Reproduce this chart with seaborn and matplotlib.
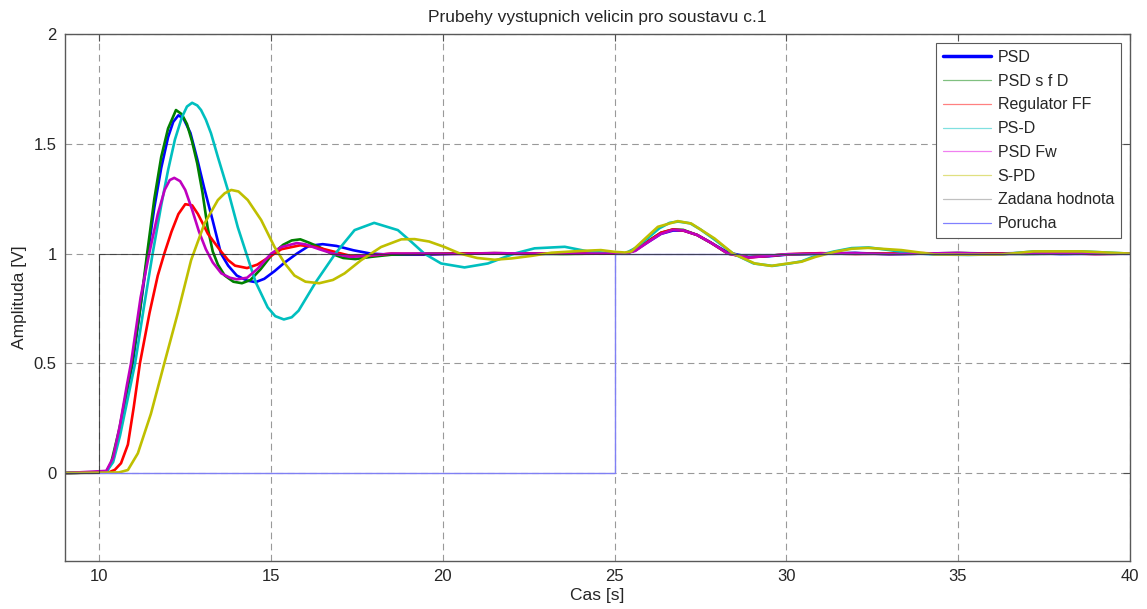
import matplotlib
matplotlib.use('Agg')
import matplotlib.pyplot as plt
from matplotlib.lines import Line2D
import seaborn as sns

# --- data (time [s], amplitude [V]) ---
t_psd = [9, 10.2, 10.4, 10.6, 10.8, 10.97, 11.2, 11.41, 11.6, 11.8, 12.0, 12.15, 12.3, 12.45, 12.65, 12.85,
         13.05, 13.3, 13.54, 13.75, 14.0, 14.3, 14.55, 14.8, 15.1, 15.4, 15.75, 16.1, 16.5, 16.9, 17.4,
         17.9, 18.5, 19.5, 20.5, 21.5, 22.5, 23.5, 24.5, 25.3, 25.6, 26.0, 26.35, 26.7, 27.0, 27.4,
         27.8, 28.3, 28.9, 29.5, 30.0, 31, 32, 33, 34, 35, 36, 37, 38, 39, 40]
y_psd = [0, 0.005, 0.06, 0.2, 0.37, 0.5, 0.76, 1.0, 1.21, 1.39, 1.53, 1.6, 1.63, 1.615, 1.55, 1.43,
         1.3, 1.15, 1.0, 0.945, 0.9, 0.877, 0.87, 0.885, 0.92, 0.96, 1.0, 1.035, 1.043, 1.035, 1.015,
         1.0, 0.995, 0.995, 1.0, 1.0, 0.998, 1.0, 1.0, 1.0, 1.015, 1.055, 1.09, 1.105, 1.105, 1.085,
         1.05, 1.005, 0.985, 0.988, 0.995, 1.0, 1.003, 0.998, 1.0, 1.0, 1.0, 1.003, 0.998, 1.0, 1.0]

t_sfd = [9, 10.2, 10.34, 10.58, 10.8, 10.95, 11.17, 11.39, 11.6, 11.8, 12.0, 12.23, 12.4, 12.55, 12.7,
         12.85, 13.0, 13.15, 13.3, 13.45, 13.65, 13.9, 14.15, 14.4, 14.7, 15.05, 15.35, 15.6, 15.85,
         16.1, 16.4, 16.75, 17.1, 17.45, 17.9, 18.5, 19.5, 20.5, 21.5, 22.5, 23.5, 24.5, 25.3, 25.6,
         26.0, 26.35, 26.7, 27.0, 27.4, 27.8, 28.3, 28.9, 29.5, 30.0, 31, 32, 33, 34, 35, 36, 37, 38, 39, 40]
y_sfd = [0, 0.005, 0.045, 0.2, 0.38, 0.5, 0.73, 1.0, 1.25, 1.44, 1.57, 1.654, 1.635, 1.59, 1.51,
         1.41, 1.28, 1.12, 1.01, 0.95, 0.9, 0.872, 0.865, 0.88, 0.93, 1.0, 1.04, 1.06, 1.065,
         1.05, 1.03, 1.0, 0.98, 0.975, 0.985, 0.995, 1.0, 1.0, 1.002, 1.0, 0.998, 1.0, 1.0, 1.015,
         1.06, 1.095, 1.11, 1.108, 1.085, 1.05, 1.0, 0.984, 0.99, 0.996, 1.0, 1.002, 0.998, 1.0, 1.003,
         1.0, 0.998, 1.0, 1.0, 1.0]

t_ff = [9, 10.3, 10.45, 10.63, 10.83, 11.0, 11.18, 11.46, 11.7, 11.89, 12.1, 12.3, 12.5, 12.7, 12.87,
        13.0, 13.16, 13.35, 13.54, 13.75, 13.95, 14.3, 14.6, 14.9, 15.3, 15.85, 16.3, 16.8, 17.3, 17.8,
        18.5, 19.5, 20.5, 21.5, 22.5, 23.5, 24.5, 25.3, 25.6, 26.0, 26.35, 26.7, 27.0, 27.4, 27.8,
        28.3, 28.9, 29.5, 30.0, 31, 32, 33, 34, 35, 36, 37, 38, 39, 40]
y_ff = [0, 0.005, 0.015, 0.045, 0.13, 0.3, 0.5, 0.73, 0.9, 1.0, 1.1, 1.18, 1.225, 1.22, 1.18,
        1.14, 1.09, 1.05, 1.01, 0.97, 0.945, 0.934, 0.95, 0.98, 1.02, 1.038, 1.03, 1.01, 0.99, 0.99,
        1.0, 0.998, 1.0, 1.002, 1.0, 1.0, 1.0, 1.0, 1.015, 1.058, 1.095, 1.11, 1.105, 1.085, 1.05,
        1.0, 0.982, 0.99, 0.997, 1.002, 0.998, 1.0, 1.002, 0.997, 1.0, 1.0, 1.002, 0.998, 1.0]

t_psd2 = [9, 10.2, 10.4, 10.6, 10.8, 11.04, 11.3, 11.55, 11.8, 12.0, 12.2, 12.4, 12.55, 12.7, 12.85,
          12.96, 13.1, 13.25, 13.45, 13.74, 14.03, 14.3, 14.55, 14.9, 15.12, 15.37, 15.6, 15.8, 16.3,
          16.87, 17.43, 18.0, 18.69, 19.08, 19.46, 19.95, 20.63, 21.31, 22.08, 22.67, 23.55, 24.22,
          25.0, 25.3, 25.6, 26.0, 26.3, 26.6, 26.85, 27.2, 27.5, 27.9, 28.45, 29.05, 29.6, 30.1,
          30.45, 30.85, 31.4, 31.9, 32.4, 33.0, 33.5, 34.3, 35.3, 36.3, 37.2, 38.6, 40]
y_psd2 = [0, 0.005, 0.05, 0.17, 0.32, 0.5, 0.76, 1.0, 1.22, 1.38, 1.52, 1.62, 1.67, 1.687, 1.675,
          1.654, 1.61, 1.548, 1.44, 1.29, 1.12, 0.99, 0.87, 0.755, 0.715, 0.70, 0.71, 0.74, 0.87,
          1.0, 1.107, 1.14, 1.107, 1.054, 1.0, 0.955, 0.937, 0.955, 1.0, 1.024, 1.031, 1.01,
          1.0, 1.0, 1.025, 1.075, 1.115, 1.14, 1.146, 1.138, 1.11, 1.065, 1.0, 0.955, 0.944, 0.955,
          0.965, 0.99, 1.01, 1.025, 1.028, 1.016, 1.005, 0.996, 0.994, 0.997, 1.01, 1.01, 1.0]

t_fw = [9, 10.2, 10.4, 10.6, 10.8, 10.92, 11.2, 11.45, 11.7, 11.9, 12.05, 12.18, 12.35, 12.5, 12.7,
        12.9, 13.1, 13.3, 13.55, 13.8, 14.0, 14.3, 14.6, 15.0, 15.3, 15.75, 16.0, 16.4, 16.8, 17.3,
        17.8, 18.5, 19.5, 20.5, 21.5, 22.5, 23.5, 24.5, 25.3, 25.6, 26.0, 26.35, 26.7, 27.0, 27.4,
        27.8, 28.3, 28.9, 29.5, 30.0, 31, 32, 33, 34, 35, 36, 37, 38, 39, 40]
y_fw = [0, 0.01, 0.07, 0.22, 0.4, 0.5, 0.8, 1.0, 1.18, 1.29, 1.335, 1.345, 1.33, 1.29, 1.2,
        1.1, 1.02, 0.96, 0.91, 0.89, 0.883, 0.89, 0.93, 1.0, 1.03, 1.048, 1.042, 1.02, 1.0, 0.985,
        0.99, 1.0, 1.0, 0.998, 1.002, 1.0, 1.0, 1.0, 1.0, 1.012, 1.055, 1.09, 1.108, 1.106, 1.085,
        1.05, 1.0, 0.982, 0.99, 0.997, 1.0, 1.002, 0.997, 1.0, 1.003, 0.998, 1.0, 1.002, 0.998, 1.0]

t_spd = [9, 10.57, 10.83, 11.12, 11.5, 11.89, 12.28, 12.67, 13.06, 13.45, 13.65, 13.84, 14.05, 14.32,
         14.71, 15.1, 15.4, 15.68, 16.0, 16.4, 16.8, 17.14, 17.62, 18.2, 18.79, 19.18, 19.6, 20.05,
         20.5, 21.0, 21.5, 22.0, 22.6, 23.16, 24.0, 24.6, 25.0, 25.3, 25.49, 25.9, 26.26, 26.84, 27.23,
         27.91, 28.45, 29.08, 29.56, 30.05, 30.44, 30.85, 31.41, 31.9, 32.38, 33.35, 34.32, 35.3,
         36.26, 37.2, 38.6, 40]
y_spd = [0, 0.003, 0.014, 0.09, 0.27, 0.5, 0.727, 0.97, 1.137, 1.244, 1.275, 1.29, 1.283, 1.244,
         1.153, 1.03, 0.955, 0.9, 0.872, 0.865, 0.88, 0.91, 0.97, 1.03, 1.065, 1.066, 1.055, 1.03,
         1.0, 0.98, 0.972, 0.978, 0.99, 1.004, 1.012, 1.016, 1.008, 1.005, 1.01, 1.07, 1.122, 1.148,
         1.137, 1.069, 1.0, 0.955, 0.944, 0.955, 0.963, 0.985, 1.008, 1.022, 1.026, 1.016, 0.996,
         0.995, 0.996, 1.01, 1.01, 1.0]

t_ref = [9, 10, 10, 40]
y_ref = [0, 0, 1, 1]
t_dist = [9, 25, 25, 40]
y_dist = [0, 0, 1, 1]

labels = ['PSD', 'PSD s f D', 'Regulator FF', 'PS-D', 'PSD Fw', 'S-PD', 'Zadana hodnota', 'Porucha']
line_colors = ['#0000ff', '#008000', '#ff0000', '#00bfbf', '#bf00bf', '#bfbf00', '#303030', '#8080f4']
legend_colors = ['#0000ff', '#80c080', '#ff8080', '#80e0e0', '#f080f0', '#e0e080', '#c0c0c0', '#8080ff']

sns.set_style('white')
plt.rcParams['font.family'] = ['Liberation Sans', 'DejaVu Sans']

fig = plt.figure(figsize=(11.47, 6.09), dpi=100)
ax = fig.add_axes([0.0567, 0.079, 0.9283, 0.865])

series = [(t_psd, y_psd), (t_sfd, y_sfd), (t_ff, y_ff), (t_psd2, y_psd2),
          (t_fw, y_fw), (t_spd, y_spd)]
for (t, y), c in zip(series, line_colors[:6]):
    sns.lineplot(x=t, y=y, ax=ax, color=c, lw=1.9, sort=False, estimator=None)
# disturbance first, reference on top -> dark line along y=1
sns.lineplot(x=t_dist, y=y_dist, ax=ax, color=line_colors[7], lw=1.0, sort=False, estimator=None)
sns.lineplot(x=t_ref, y=y_ref, ax=ax, color=line_colors[6], lw=0.8, alpha=0.8,
             sort=False, estimator=None)

ax.set_xlim(9, 40)
ax.set_ylim(-0.4, 2)
ax.set_xticks([10, 15, 20, 25, 30, 35, 40])
ax.set_yticks([0, 0.5, 1, 1.5, 2])
ax.set_yticklabels(['0', '0.5', '1', '1.5', '2'])
ax.grid(True, ls=(0, (6, 4)), color='0.6', lw=0.8)
ax.tick_params(direction='in', top=True, right=True, length=5, width=0.8,
               color='0.3', labelsize=12, pad=6)
for s in ax.spines.values():
    s.set_color('0.35')
    s.set_linewidth(1.0)

ax.set_title('Prubehy vystupnich velicin pro soustavu c.1', fontsize=12.5, pad=9)
ax.set_xlabel('Cas [s]', fontsize=12.5, labelpad=3)
ax.set_ylabel('Amplituda [V]', fontsize=12.5, labelpad=5)

handles = [Line2D([], [], color=c, lw=(2.5 if i == 0 else 0.9)) for i, c in enumerate(legend_colors)]
leg = ax.legend(handles, labels, loc='upper right', bbox_to_anchor=(0.9915, 0.983),
                borderaxespad=0, fontsize=11.5, handlelength=3.05, labelspacing=0.55,
                handletextpad=0.4, borderpad=0.42, fancybox=False, framealpha=1,
                edgecolor='0.35')
leg.get_frame().set_linewidth(0.8)

plt.savefig('out.png', dpi=100)
plt.close()
